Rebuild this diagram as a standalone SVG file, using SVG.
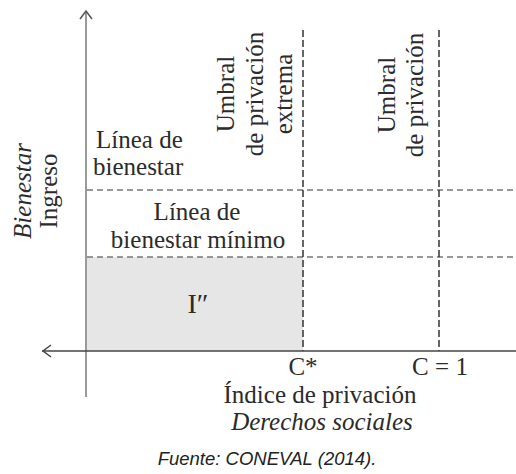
<svg xmlns="http://www.w3.org/2000/svg" width="516" height="474" viewBox="0 0 516 474">
<style>
.t{font-family:"Liberation Serif","Times New Roman",serif;font-size:25px;fill:#2b2b2b}
.i{font-style:italic}
.m{text-anchor:middle}
.dv{stroke:#333;stroke-width:1.5;stroke-dasharray:7 3;fill:none}
.dh{stroke:#777;stroke-width:1.5;stroke-dasharray:6 4;fill:none}
.src{font-family:"Liberation Sans",Arial,sans-serif;font-style:italic;font-size:18.5px;fill:#222;text-anchor:middle}
</style>
<rect width="516" height="474" fill="#fff"/>
<g id="region-I">
<rect x="87" y="257" width="216" height="94" fill="#e6e6e6"/>
<text class="t m" x="198" y="313" style="font-size:28px">I″</text>
</g>
<g id="connectors">
<line class="dh" x1="87" y1="190" x2="516" y2="190"/>
<line class="dh" x1="87" y1="257" x2="516" y2="257"/>
<line class="dv" x1="303" y1="30" x2="303" y2="351"/>
<line class="dv" x1="439" y1="30" x2="439" y2="351"/>
<line x1="86" y1="11" x2="86" y2="397" stroke="#9a9a9a" stroke-width="2"/>
<polyline points="80,19 86,11 92,19" fill="none" stroke="#555" stroke-width="1.5"/>
<line x1="42" y1="351" x2="516" y2="351" stroke="#444" stroke-width="1.5"/>
<polyline points="51,345 43,351 51,357" fill="none" stroke="#444" stroke-width="1.5"/>
</g>
<g id="y-axis-label">
<text class="t i m" transform="translate(31,191) rotate(-90)">Bienestar</text>
<text class="t m" transform="translate(57,191) rotate(-90)">Ingreso</text>
</g>
<g id="linea-bienestar">
<text class="t" x="96" y="148">Línea de</text>
<text class="t" x="93" y="175">bienestar</text>
</g>
<g id="linea-bienestar-minimo">
<text class="t m" x="197" y="220">Línea de</text>
<text class="t m" x="198" y="248">bienestar mínimo</text>
</g>
<g id="umbral-extrema">
<text class="t m" transform="translate(234,94) rotate(-90)">Umbral</text>
<text class="t m" transform="translate(263,94) rotate(-90)">de privación</text>
<text class="t m" transform="translate(292,94) rotate(-90)">extrema</text>
</g>
<g id="umbral">
<text class="t m" transform="translate(395,95) rotate(-90)">Umbral</text>
<text class="t m" transform="translate(423,95) rotate(-90)">de privación</text>
</g>
<g id="x-axis-label">
<text class="t m" x="303" y="375">C*</text>
<text class="t m" x="440" y="375">C = 1</text>
<text class="t m" x="320" y="403">Índice de privación</text>
<text class="t i m" x="322" y="430">Derechos sociales</text>
</g>
<g id="source">
<text class="src" x="267" y="465">Fuente: CONEVAL (2014).</text>
</g>
</svg>
